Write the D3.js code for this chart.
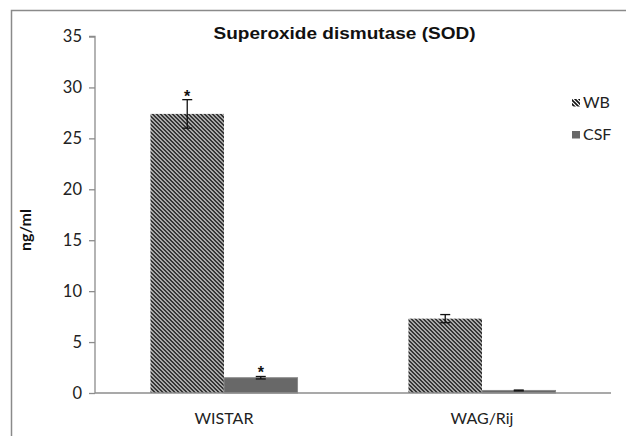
<!DOCTYPE html>
<html>
<head>
<meta charset="utf-8">
<script src="https://cdn.jsdelivr.net/npm/d3@7"></script>
<style>
  html, body { margin: 0; padding: 0; background: #fff; }
  svg { display: block; }
</style>
</head>
<body>
<svg id="chart" width="626" height="436"></svg>
<script>
// ---- data ----
const categories = ["WISTAR", "WAG/Rij"];
const seriesNames = ["WB", "CSF"];
const wbValues = [27.4, 7.3];
const csfValues = [1.5, 0.25];
const wbErrors = [1.4, 0.4];
const csfErrors = [0.12, 0.04];
const wbSignificant = [true, false];
const csfSignificant = [true, false];
const yTicks = [0, 5, 10, 15, 20, 25, 30, 35];
const titleText = "Superoxide dismutase (SOD)";
const yLabel = "ng/ml";

// ---- setup ----
const svg = d3.select("#chart");
const axisColor = "#8c8c8c";
const textFont = "Lato, 'Open Sans', sans-serif";

const plot = { left: 95, right: 611, top: 36.5, bottom: 393 };

const y = d3.scaleLinear().domain([0, 35]).range([plot.bottom, plot.top]);
const x0 = d3.scaleBand().domain(categories).range([plot.left, plot.right]).padding(0);
const groupFrac = 0.57;
const x1 = d3.scaleBand().domain(seriesNames)
  .range([0, x0.bandwidth() * groupFrac]).padding(0);

// patterns
const defs = svg.append("defs");
const pat = defs.append("pattern")
  .attr("id", "hatch").attr("patternUnits", "userSpaceOnUse")
  .attr("width", 4).attr("height", 4);
pat.append("rect").attr("width", 4).attr("height", 4).attr("fill", "#fff");
pat.append("path")
  .attr("d", "M-1,-1 L5,5 M3,-1 L5,1 M-1,3 L1,5")
  .attr("stroke", "#111").attr("stroke-width", 1.65);

// frame (partial border)
svg.append("path")
  .attr("d", "M11.5,436 L11.5,10.5 L626,10.5")
  .attr("fill", "none").attr("stroke", "#8a8a8a").attr("stroke-width", 1.5);

// title
svg.append("text")
  .attr("x", 344.5).attr("y", 39)
  .attr("text-anchor", "middle")
  .attr("font-family", "'Liberation Sans', Arial, sans-serif")
  .attr("font-weight", "bold").attr("font-size", 17)
  .attr("textLength", 262).attr("lengthAdjust", "spacingAndGlyphs")
  .attr("fill", "#111")
  .text(titleText);

// y axis
const yAxis = d3.axisLeft(y).tickValues(yTicks).tickSize(6).tickPadding(7);
const gy = svg.append("g").attr("transform", `translate(${plot.left},0)`).call(yAxis);
gy.select(".domain").attr("stroke", axisColor).attr("stroke-width", 1.3)
  .attr("d", `M-6,${y(35)}H0V${y(0)}`);
gy.selectAll(".tick line").attr("stroke", axisColor).attr("stroke-width", 1.3);
gy.selectAll(".tick text").attr("font-family", textFont).attr("font-size", 16.5)
  .attr("fill", "#222");

// y label
svg.append("text")
  .attr("transform", `translate(31,230) rotate(-90)`)
  .attr("text-anchor", "middle")
  .attr("font-family", textFont).attr("font-weight", "bold").attr("font-size", 16)
  .attr("fill", "#111")
  .text(yLabel);

// bars
const rows = categories.map((c, i) => ({
  cat: c,
  items: [
    { s: "WB", v: wbValues[i], e: wbErrors[i], sig: wbSignificant[i] },
    { s: "CSF", v: csfValues[i], e: csfErrors[i], sig: csfSignificant[i] }
  ]
}));

const groupOffset = x0.bandwidth() * (1 - groupFrac) / 2;
const groups = svg.append("g").selectAll("g").data(rows).join("g")
  .attr("transform", d => `translate(${x0(d.cat) + groupOffset},0)`);

groups.selectAll("rect").data(d => d.items).join("rect")
  .attr("x", d => x1(d.s))
  .attr("y", d => y(d.v))
  .attr("width", x1.bandwidth())
  .attr("height", d => y(0) - y(d.v))
  .attr("fill", d => d.s === "WB" ? "url(#hatch)" : "#686868")
  .attr("stroke", d => d.s === "WB" ? "none" : "#8a8a8a")
  .attr("stroke-width", 1);

// error bars
const eb = groups.selectAll("g.err").data(d => d.items).join("g").attr("class", "err");
eb.append("line")
  .attr("x1", d => x1(d.s) + x1.bandwidth() / 2)
  .attr("x2", d => x1(d.s) + x1.bandwidth() / 2)
  .attr("y1", d => y(d.v + d.e)).attr("y2", d => y(d.v - d.e))
  .attr("stroke", "#111").attr("stroke-width", 1.3);
eb.selectAll("line.cap").data(d => [{ d, v: d.v + d.e }, { d, v: d.v - d.e }]).join("line")
  .attr("class", "cap")
  .attr("x1", o => x1(o.d.s) + x1.bandwidth() / 2 - 5)
  .attr("x2", o => x1(o.d.s) + x1.bandwidth() / 2 + 5)
  .attr("y1", o => y(o.v)).attr("y2", o => y(o.v))
  .attr("stroke", "#111").attr("stroke-width", 1.3);

// asterisks
groups.selectAll("text.sig").data(d => d.items.filter(it => it.sig)).join("text")
  .attr("class", "sig")
  .attr("x", d => x1(d.s) + x1.bandwidth() / 2)
  .attr("y", d => y(d.v + d.e) + 2)
  .attr("text-anchor", "middle")
  .attr("font-family", "'Liberation Sans', Arial, sans-serif")
  .attr("font-weight", "bold").attr("font-size", 16)
  .attr("fill", "#111")
  .text("*");

// x axis
svg.append("line")
  .attr("x1", plot.left).attr("x2", plot.right)
  .attr("y1", y(0)).attr("y2", y(0))
  .attr("stroke", axisColor).attr("stroke-width", 1.5);
svg.append("g").selectAll("text").data(categories).join("text")
  .attr("x", d => x0(d) + x0.bandwidth() / 2)
  .attr("y", 424)
  .attr("text-anchor", "middle")
  .attr("font-family", textFont).attr("font-size", 16)
  .attr("fill", "#222")
  .text(d => d);

// legend
const legend = svg.append("g");
const legY = [99, 131];
legend.selectAll("rect").data(seriesNames).join("rect")
  .attr("x", 572).attr("y", (d, i) => legY[i])
  .attr("width", 8).attr("height", 7.5)
  .attr("fill", d => d === "WB" ? "url(#hatch)" : "#686868");
legend.selectAll("text").data(seriesNames).join("text")
  .attr("x", 583).attr("y", (d, i) => legY[i] + 8.5)
  .attr("font-family", textFont).attr("font-size", 16)
  .attr("fill", "#222")
  .text(d => d);
</script>
</body>
</html>
